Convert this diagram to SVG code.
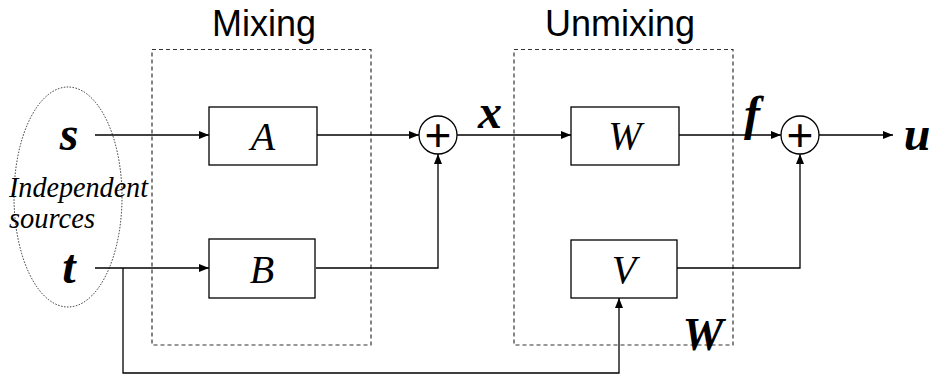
<svg xmlns="http://www.w3.org/2000/svg" width="937" height="379" viewBox="0 0 937 379">
<defs>
<marker id="arr" viewBox="0 0 10 8" refX="10" refY="4" markerWidth="10" markerHeight="8" markerUnits="userSpaceOnUse" orient="auto">
<path d="M0,0 L10,4 L0,8 z" fill="#000"/>
</marker>
<style>
.dash{fill:none;stroke:#333;stroke-width:1.2;stroke-dasharray:4 3}
.box{fill:#fff;stroke:#000;stroke-width:1.3}
.sum{fill:#fff;stroke:#000;stroke-width:1.3}
.wire{fill:none;stroke:#000;stroke-width:1.3}
.arrow{marker-end:url(#arr)}
.title{font-family:"Liberation Sans",Arial,sans-serif;font-size:36px;fill:#000}
.blk{font-family:"Liberation Serif","Times New Roman",serif;font-style:italic;font-size:40px;fill:#000;text-anchor:middle}
.var{font-family:"Liberation Serif","Times New Roman",serif;font-style:italic;font-weight:bold;font-size:48px;fill:#000;text-anchor:middle}
.note{font-family:"Liberation Serif","Times New Roman",serif;font-style:italic;font-size:29px;fill:#000}
.plus{font-family:"Liberation Sans",Arial,sans-serif;font-size:46px;fill:#000;text-anchor:middle}
</style>
</defs>

<g id="mixing-frame">
<rect class="dash" x="152" y="49.5" width="219" height="295.5"/>
<text class="title" x="212" y="36">Mixing</text>
</g>
<g id="unmixing-frame">
<rect class="dash" x="514" y="49.5" width="219" height="295.5"/>
<text class="title" x="545" y="36">Unmixing</text>
<text class="var" x="703" y="350" style="font-size:46px">W</text>
</g>

<g id="sources">
<ellipse cx="68" cy="197" rx="54" ry="110" fill="none" stroke="#000" stroke-width="0.8" stroke-dasharray="1.5 1.5"/>
<text class="note" x="9" y="197" textLength="139" lengthAdjust="spacingAndGlyphs">Independent</text>
<text class="note" x="9" y="228" textLength="86" lengthAdjust="spacingAndGlyphs">sources</text>
</g>
<g id="s"><text class="var" x="69" y="150">s</text></g>
<g id="t"><text class="var" x="69" y="283">t</text></g>

<g id="connectors">
<path class="wire arrow" d="M95,135 H209"/>
<path class="wire arrow" d="M317,135 H419"/>
<path class="wire arrow" d="M95,268 H209"/>
<path class="wire arrow" d="M316,268 H438 V154"/>
<path class="wire arrow" d="M457,135 H571"/>
<path class="wire arrow" d="M679,135 H781"/>
<path class="wire arrow" d="M677,268 H800 V154"/>
<path class="wire arrow" d="M819,135 H893"/>
<path class="wire arrow" d="M123,268 V373 H619 V298"/>
</g>

<g id="A"><rect class="box" x="209" y="107" width="108" height="58"/><text class="blk" x="263" y="150">A</text></g>
<g id="B"><rect class="box" x="209" y="239" width="106" height="59"/><text class="blk" x="262" y="283">B</text></g>
<g id="W"><rect class="box" x="571" y="107" width="108" height="58"/><text class="blk" x="625" y="149">W</text></g>
<g id="V"><rect class="box" x="571" y="240" width="106" height="58"/><text class="blk" x="624" y="283">V</text></g>

<g id="sum1"><circle class="sum" cx="438" cy="135" r="19"/><text class="plus" x="438" y="151">+</text></g>
<g id="sum2"><circle class="sum" cx="800" cy="135" r="19"/><text class="plus" x="800" y="151">+</text></g>

<g id="x"><text class="var" x="490" y="128">x</text></g>
<g id="f"><text class="var" x="752" y="130">f</text></g>
<g id="u"><text class="var" x="917" y="150">u</text></g>
</svg>
